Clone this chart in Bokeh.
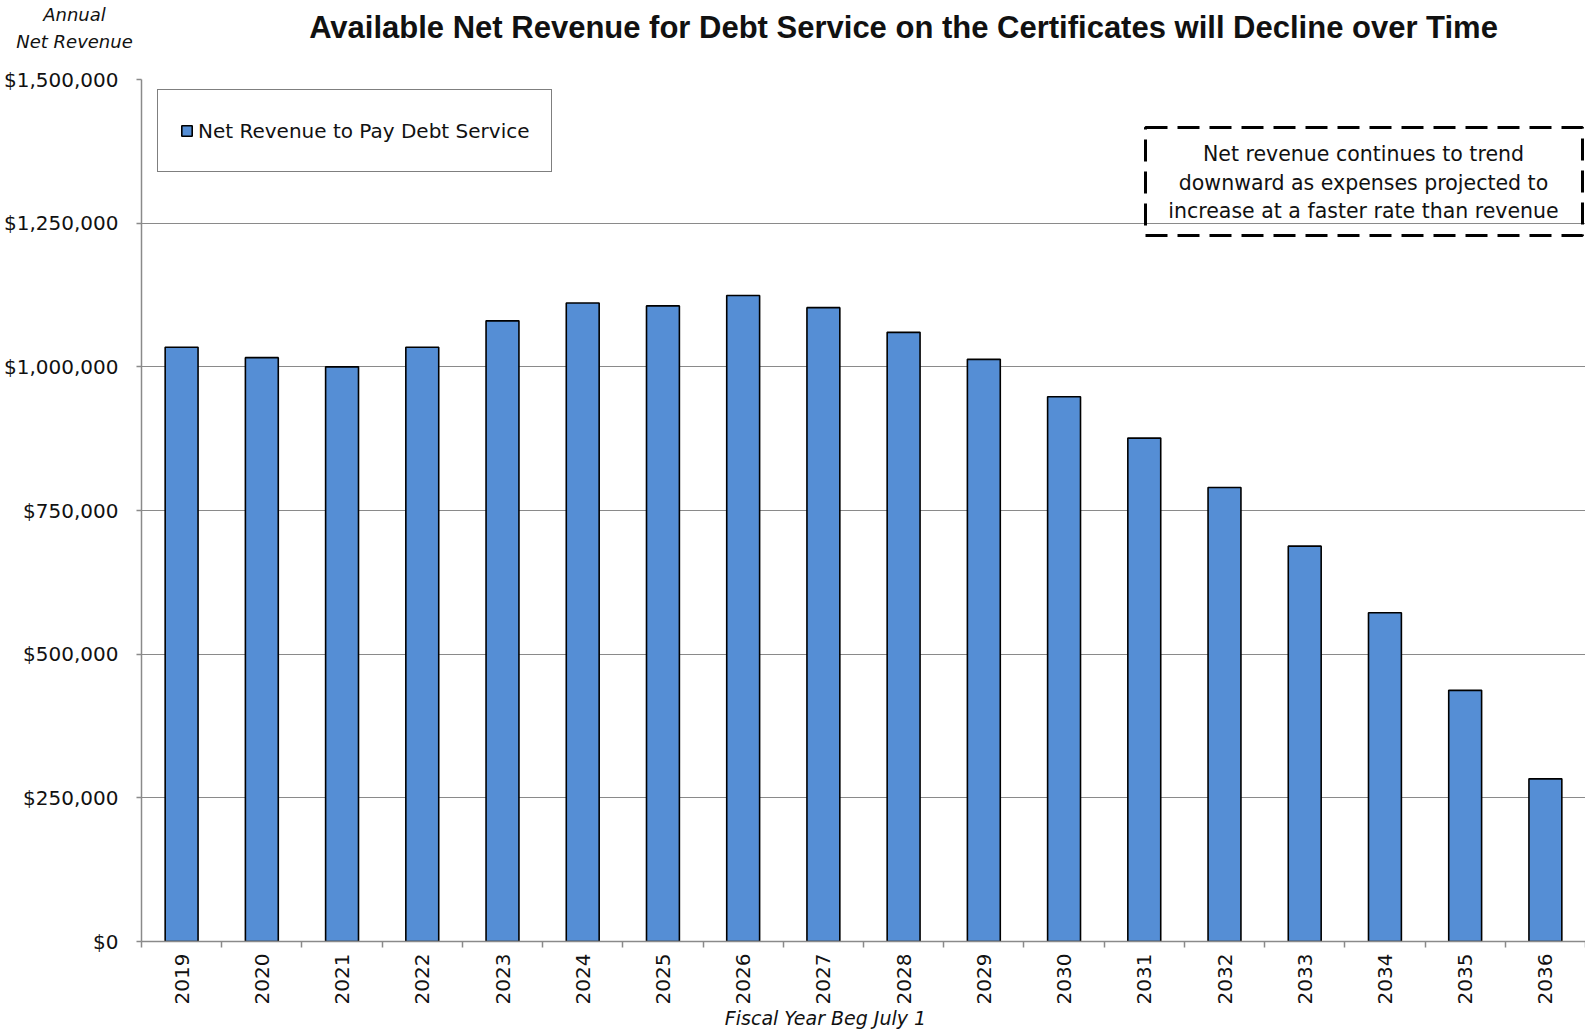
import math

from bokeh.embed import file_html
from bokeh.models import (BoxAnnotation, ColumnDataSource, FixedTicker, Label,
                          Legend, LegendItem, NumeralTickFormatter, Range1d)
from bokeh.plotting import figure
from bokeh.resources import INLINE

# ---- data -------------------------------------------------------------
years = ["2019", "2020", "2021", "2022", "2023", "2024", "2025", "2026", "2027",
         "2028", "2029", "2030", "2031", "2032", "2033", "2034", "2035", "2036"]
net_revenue = [1034000, 1016000, 1000000, 1034000, 1080000, 1111000, 1106000,
               1124000, 1103000, 1060000, 1013000, 948000, 876000, 790000,
               688000, 572000, 437000, 283000]
y_ticks = [0, 250000, 500000, 750000, 1000000, 1250000, 1500000]

title_text = "Available Net Revenue for Debt Service on the Certificates will Decline over Time"
legend_text = "Net Revenue to Pay Debt Service"
note_lines = ["Net revenue continues to trend",
              "downward as expenses projected to",
              "increase at a faster rate than revenue"]
y_caption = ["Annual", "Net Revenue"]
x_caption = "Fiscal Year Beg July 1"

# ---- layout -----------------------------------------------------------
W, H = 1585, 1029
LEFT, RIGHT, TOP, BOTTOM = 141, 0, 79, 88
FONT = "DejaVu Sans"
TITLE_FONT = "Liberation Sans"
INK = "#111111"
GREY = "#8a8a8a"
BAR = "#558ED5"

n = len(years)
y_max = y_ticks[-1]
frame_w = W - LEFT - RIGHT
frame_h = H - TOP - BOTTOM


def xd(px):
    """canvas pixel x -> data x"""
    return (px - LEFT) / frame_w * n


def yd(py):
    """canvas pixel y -> data y"""
    return (H - BOTTOM - py) / frame_h * y_max


src = ColumnDataSource(dict(x=[i + 0.5 for i in range(n)], value=net_revenue, year=years))

p = figure(width=W, height=H, x_range=Range1d(0, n), y_range=Range1d(0, y_max),
           output_backend="svg", toolbar_location=None,
           min_border_left=LEFT, min_border_right=RIGHT,
           min_border_top=TOP, min_border_bottom=BOTTOM)
p.title.visible = False
p.outline_line_color = None
p.background_fill_color = "white"
p.border_fill_color = "white"

bars = p.vbar(x="x", top="value", width=0.41, source=src,
              fill_color=BAR, line_color="black", line_width=1.6)

# x axis: labels at category centres, ticks on category boundaries
xa = p.xaxis[0]
xa.ticker = FixedTicker(ticks=[i + 0.5 for i in range(n)], minor_ticks=list(range(n + 1)))
xa.major_label_overrides = {i + 0.5: years[i] for i in range(n)}
xa.major_label_orientation = math.pi / 2
xa.major_tick_in = 0
xa.major_tick_out = 0
xa.minor_tick_in = 0
xa.minor_tick_out = 6
xa.minor_tick_line_color = GREY
xa.minor_tick_line_width = 1.5
xa.axis_line_color = GREY
xa.axis_line_width = 1.5
xa.major_label_text_font = FONT
xa.major_label_text_font_size = "20px"
xa.major_label_text_color = INK
xa.major_label_standoff = 6
p.xgrid.visible = False

# y axis
ya = p.yaxis[0]
ya.ticker = FixedTicker(ticks=y_ticks)
ya.formatter = NumeralTickFormatter(format="$0,0")
ya.major_tick_in = 0
ya.major_tick_out = 5
ya.major_tick_line_color = GREY
ya.major_tick_line_width = 1.5
ya.minor_tick_line_color = None
ya.axis_line_color = GREY
ya.axis_line_width = 1.5
ya.major_label_text_font = FONT
ya.major_label_text_font_size = "20px"
ya.major_label_text_color = INK
ya.major_label_standoff = 18
p.ygrid.grid_line_color = GREY
p.ygrid.grid_line_width = 1.2

# legend
legend = Legend(items=[LegendItem(label=legend_text, renderers=[bars])],
                location=(16, 769), margin=0, padding=22, spacing=0,
                glyph_width=13, glyph_height=13, label_standoff=5,
                label_height=37, label_text_font=FONT, label_text_font_size="20px",
                label_text_color=INK,
                border_line_color="black", border_line_width=1.5,
                background_fill_color="white", background_fill_alpha=1.0)
p.add_layout(legend)

# dashed call-out box
p.add_layout(BoxAnnotation(left=xd(1145), right=xd(1582), top=yd(127), bottom=yd(235),
                           fill_alpha=0, line_color="black", line_alpha=1.0,
                           line_width=3, line_dash="22 10"))
for line, py in zip(note_lines, [153, 182, 210]):
    p.add_layout(Label(x=xd(1363), y=yd(py), text=line, text_align="center",
                       text_baseline="middle", text_font=FONT,
                       text_font_size="20.5px", text_color=INK))

# title and axis captions live in the side panels so they are not clipped
p.add_layout(Label(x=xd(903), y=yd(27), text=title_text, text_align="center",
                   text_baseline="middle", text_font=TITLE_FONT, text_font_style="bold",
                   text_font_size="31px", text_color=INK), "above")
for line, py in zip(y_caption, [14, 41]):
    p.add_layout(Label(x=xd(74), y=yd(py), text=line, text_align="center",
                       text_baseline="middle", text_font=FONT, text_font_style="italic",
                       text_font_size="18px", text_color=INK), "above")
p.add_layout(Label(x=xd(825), y=yd(1017), text=x_caption,
                   text_align="center", text_baseline="middle", text_font=FONT,
                   text_font_style="italic", text_font_size="19px", text_color=INK),
             "below")

open("out.html", "w").write(file_html(p, INLINE))
